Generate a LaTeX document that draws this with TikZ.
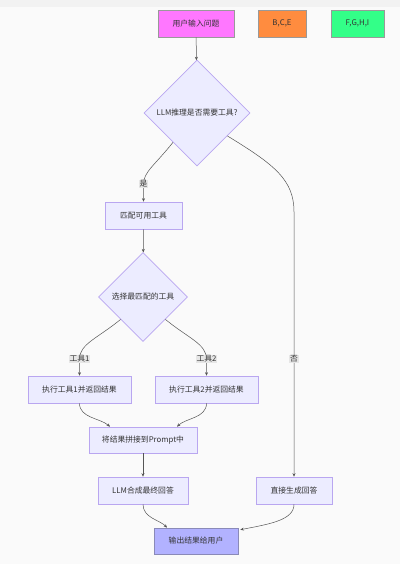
\documentclass[tikz,border=0pt]{standalone}
\usepackage{fontspec}
\setmainfont{Noto Sans CJK SC}
\usepackage{xcolor}
\definecolor{boxfill}{HTML}{ECECFF}
\definecolor{boxline}{HTML}{B9A6F0}
\definecolor{pinkfill}{HTML}{FF77FF}
\definecolor{orangefill}{HTML}{FF8C3F}
\definecolor{greenfill}{HTML}{33FF88}
\definecolor{outfill}{HTML}{B2B2FF}
\definecolor{outline}{HTML}{8A8AB8}
\definecolor{linkcolor}{HTML}{555555}
\definecolor{labelfill}{HTML}{E6E6E6}
\usetikzlibrary{arrows.meta, calc, shapes.geometric}

\begin{document}
\begin{tikzpicture}[
    x=1pt, y=-1pt,
    every node/.style={font=\fontsize{7.8}{9}\selectfont, text=black!80},
    proc/.style={draw=boxline, fill=boxfill, line width=0.6pt,
      minimum height=27pt, inner sep=0pt},
    legend/.style={draw=black!40, line width=0.6pt, minimum height=27pt, inner sep=0pt},
    decide/.style={diamond, draw=boxline, fill=boxfill, line width=0.6pt,
      aspect=1, inner sep=1pt},
    lbl/.style={fill=labelfill, inner sep=1pt},
    flow/.style={draw=linkcolor, line width=0.5pt, -{Stealth[length=3.5pt,width=3pt]}}
  ]
  % background
  \fill[black!2] (0,0) rectangle (400,564);
  \fill[black!5] (0,0) rectangle (400,7);

  % top row
  \node[legend, fill=pinkfill, minimum width=76pt] (ask) at (196,23.5) {用户输入问题};
  \node[legend, fill=orangefill, minimum width=48pt] (bce) at (282,23.5) {B,C,E};
  \node[legend, fill=greenfill, minimum width=53pt] (fghi) at (357.5,23.5) {F,G,H,I};

  % decisions and steps
  \node[decide, minimum width=106pt, minimum height=106pt] (need) at (197,113) {LLM推理是否需要工具?};
  \node[proc, minimum width=77pt] (match) at (143.5,215.5) {匹配可用工具};
  \node[decide, minimum width=89pt, minimum height=89pt] (pick) at (143,297) {选择最匹配的工具};
  \node[proc, minimum width=103pt] (run1) at (79.5,389.5) {执行工具1并返回结果};
  \node[proc, minimum width=103pt] (run2) at (206.5,389.5) {执行工具2并返回结果};
  \node[proc, minimum width=108pt, minimum height=26pt] (merge) at (143,440) {将结果拼接到Prompt中};
  \node[proc, minimum width=90pt] (final) at (143,490.5) {LLM合成最终回答};
  \node[proc, minimum width=76pt] (direct) at (294,490.5) {直接生成回答};
  \node[proc, draw=outline, fill=outfill, minimum width=84pt, minimum height=26pt] (out) at (196,541) {输出结果给用户};

  % links
  \draw[flow] (ask) -- (need);
  \draw[flow] ($(need.west)!0.55!(need.south)$) .. controls (155,165) and (143.5,172) .. (143.5,184)
    node[lbl] {是} -- (match);
  \draw[flow] ($(need.east)!0.43!(need.south)$) .. controls (275,165) and (294,180) .. (294,212)
    -- (294,359) node[lbl] {否} -- (direct);
  \draw[flow] (match) -- (pick);
  \draw[flow] ($(pick.west)!0.5!(pick.south)$) .. controls (98,338) and (79.5,344) .. (79.5,359)
    node[lbl] {工具1} -- (run1);
  \draw[flow] ($(pick.east)!0.5!(pick.south)$) .. controls (188,338) and (206.5,344) .. (206.5,359)
    node[lbl] {工具2} -- (run2);
  \draw[flow] (run1.south) .. controls (79.5,418) and (100,418) .. ($(merge.north)+(-33,0)$);
  \draw[flow] (run2.south) .. controls (206.5,418) and (186,418) .. ($(merge.north)+(34,0)$);
  \draw[flow] (merge) -- (final);
  \draw[flow] (final.south) .. controls (143,518) and (160,520) .. ($(out.north)+(-29,0)$);
  \draw[flow] (direct.south) .. controls (294,520) and (270,524) .. ($(out.north east)+(2,2)$);
\end{tikzpicture}
\end{document}
